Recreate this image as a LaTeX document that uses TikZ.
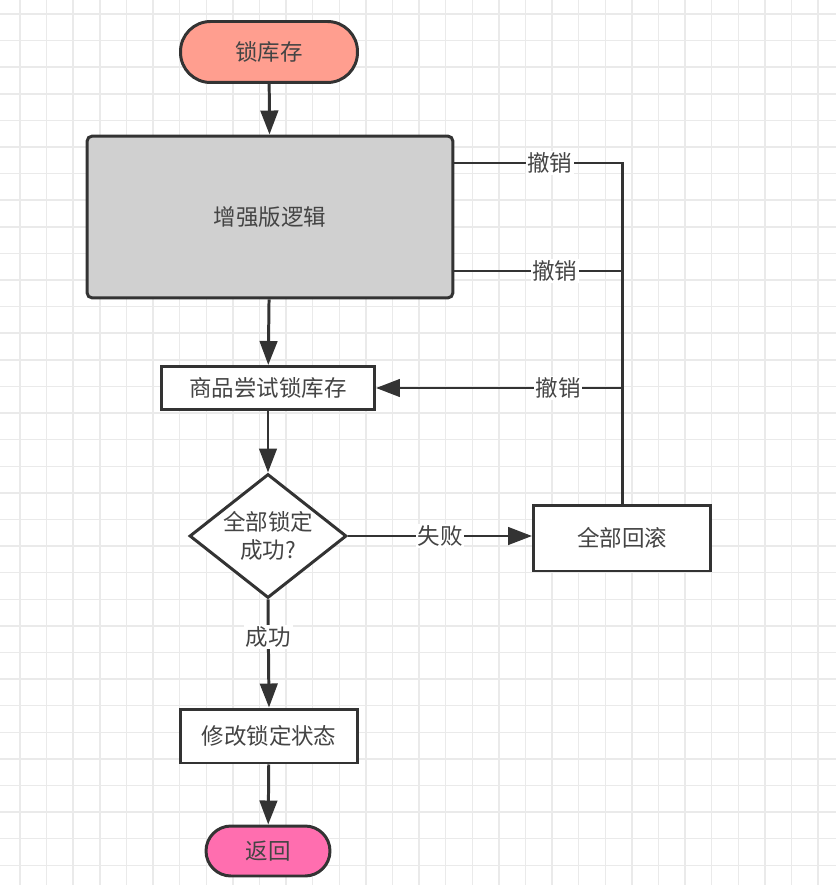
\documentclass[tikz,border=0pt]{standalone}
\usepackage{fontspec}
\usepackage{tikz}
\usetikzlibrary{arrows.meta,positioning,shapes.geometric}
\newfontfamily\cjk{Noto Sans CJK SC}
\definecolor{edgegrey}{RGB}{51,51,51}
\definecolor{textgrey}{RGB}{68,68,68}
\definecolor{gridgrey}{RGB}{234,234,234}
\definecolor{logicgrey}{RGB}{208,208,208}
\definecolor{salmonfill}{RGB}{255,158,143}
\definecolor{pinkfill}{RGB}{255,110,175}
\tikzset{
  base/.style={font=\cjk\fontsize{12.8}{16}\selectfont, align=center, inner sep=2pt, text=textgrey},
  box/.style={base, rectangle, draw=edgegrey, fill=white, line width=1.7pt},
  term/.style={box, rounded corners=0.6cm},
  dec/.style={diamond, draw=edgegrey, fill=white, line width=1.7pt, inner sep=0pt},
  arr/.style={-{Triangle[length=4.8mm,width=3.5mm]}, line width=1.7pt, draw=edgegrey},
  line/.style={line width=1.7pt, draw=edgegrey},
  lbl/.style={base, fill=white, inner sep=1pt},
  gridline/.style={draw=gridgrey, line width=0.8pt},
}
\begin{document}
\begin{tikzpicture}[x=0.02cm,y=-0.02cm]
  \useasboundingbox (0,0) rectangle (836,885);
  % background grid
  \foreach \i in {0,...,30}{\draw[gridline] (20+26.6*\i,0) -- (20+26.6*\i,885);}
  \foreach \j in {0,...,32}{\draw[gridline] (0,14+26.6*\j) -- (836,14+26.6*\j);}
  % main column
  \node[term,fill=salmonfill,minimum width=3.54cm,minimum height=1.22cm] (lock) at (269,52) {锁库存};
  \node[box,fill=logicgrey,rounded corners=3pt,minimum width=7.32cm,minimum height=3.24cm] (logic) at (270,217) {增强版逻辑};
  \node[box,minimum width=4.26cm,minimum height=0.86cm] (try) at (268,388) {商品尝试锁库存};
  \node[dec,minimum width=3.14cm,minimum height=2.48cm] (ok) at (268,536) {};
  \node[base] (oktxt) at (ok) {全部锁定\\成功?};
  \node[box,minimum width=3.54cm,minimum height=1.08cm] (mark) at (269,736) {修改锁定状态};
  \node[term,fill=pinkfill,rounded corners=0.5cm,minimum width=2.48cm,minimum height=1.0cm] (ret) at (268,851) {返回};
  % rollback
  \node[box,minimum width=3.54cm,minimum height=1.32cm] (rb) at (622,538) {全部回滚};
  \foreach \a/\b in {lock/logic,logic/try,try/ok,mark/ret}{\draw[arr] (\a) -- (\b);}
  \draw[arr] (ok.south) -- (mark.north) node[lbl,pos=0.35]{成功};
  \draw[arr] (ok.east) -- (ok.east -| rb.west) node[lbl,midway]{失败};
  % undo branches
  \coordinate (u1) at (622,163);
  \coordinate (u2) at (622,271);
  \coordinate (u3) at (622,388);
  \draw[line] (rb.north) -- (u1) -- (logic.east |- u1) node[lbl,pos=0.43]{撤销};
  \draw[line] (u2) -- (logic.east |- u2) node[lbl,pos=0.4]{撤销};
  \draw[arr] (u3) -- (try.east |- u3) node[lbl,pos=0.26]{撤销};
\end{tikzpicture}
\end{document}
